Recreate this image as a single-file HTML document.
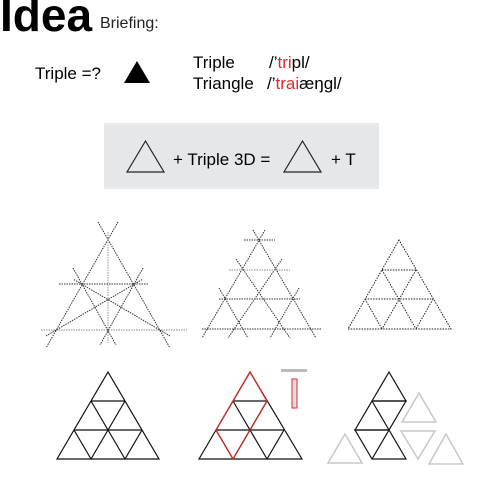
<!DOCTYPE html>
<html><head><meta charset="utf-8"><style>
body{margin:0;background:#fff;width:500px;height:500px;overflow:hidden}
svg{display:block}
text{font-family:"Liberation Sans",sans-serif}
</style></head><body>
<svg width="500" height="500" viewBox="0 0 500 500">
<text x="0" y="31" font-size="46" font-weight="bold" fill="#000">Idea</text>
<text x="100" y="28" font-size="16" fill="#222">Briefing:</text>
<text x="35" y="79" font-size="17" fill="#000">Triple =?</text>
<polygon points="124,83 150,83 137,61" fill="#000"/>
<text x="193" y="68" font-size="17">Triple</text>
<text x="269" y="68" font-size="17">/’<tspan fill="#e0282e">tri</tspan>pl/</text>
<text x="193" y="89" font-size="17">Triangle</text>
<text x="267" y="89" font-size="17">/’<tspan fill="#e0282e">trai</tspan>æŋgl/</text>
<rect x="104" y="123" width="275" height="66" fill="#e6e7e8"/>
<polygon points="127,172 164,172 145.5,141" fill="none" stroke="#222" stroke-width="1.2"/>
<text x="173" y="165" font-size="17">+ Triple 3D =</text>
<polygon points="284,172 321,172 302.5,141" fill="none" stroke="#222" stroke-width="1.2"/>
<text x="331" y="165" font-size="17">+ T</text>

<g stroke="#333" stroke-width="1" stroke-dasharray="1.5,1" fill="none">
<line x1="118" y1="222" x2="46" y2="348"/><line x1="98" y1="222" x2="170" y2="348"/>
<line x1="41" y1="330" x2="187" y2="330" stroke="#888"/>
<line x1="108" y1="232" x2="108" y2="343" stroke="#999"/>
<line x1="59" y1="284" x2="149" y2="284"/>
<line x1="73" y1="268" x2="116" y2="345"/><line x1="143" y1="268" x2="100" y2="345"/>
<line x1="46" y1="336" x2="143" y2="279"/><line x1="170" y1="336" x2="73" y2="279"/>
</g>
<g stroke="#333" stroke-width="1" stroke-dasharray="1.5,1" fill="none">
<line x1="265" y1="230" x2="202" y2="338"/><line x1="253" y1="230" x2="316" y2="338"/>
<line x1="236" y1="259" x2="290" y2="338"/><line x1="282" y1="259" x2="228" y2="338"/>
<line x1="219" y1="288" x2="248" y2="338"/><line x1="299" y1="288" x2="270" y2="338"/>
<line x1="244" y1="240" x2="275" y2="240"/><line x1="229" y1="270" x2="290" y2="270" stroke="#888"/>
<line x1="219" y1="299" x2="300" y2="299"/><line x1="202" y1="329" x2="322" y2="329"/>
</g>
<g stroke="#222" stroke-width="1" stroke-dasharray="1.5,1.2" fill="none">
<polygon points="399,240 348,329 451,329"/>
<line x1="382" y1="270" x2="416" y2="270"/><line x1="365" y1="299" x2="433" y2="299"/>
<line x1="382" y1="270" x2="416" y2="329"/><line x1="416" y1="270" x2="382" y2="329"/>
<line x1="365" y1="299" x2="382" y2="329"/><line x1="433" y1="299" x2="416" y2="329"/>
</g>

<g stroke="#111" stroke-width="1.2" fill="none">
<polygon points="108,372 57,459 159,459"/>
<line x1="91" y1="401" x2="125" y2="401"/><line x1="74" y1="430" x2="142" y2="430"/>
<line x1="91" y1="401" x2="125" y2="459"/><line x1="125" y1="401" x2="91" y2="459"/>
<line x1="74" y1="430" x2="91" y2="459"/><line x1="142" y1="430" x2="125" y2="459"/>
</g>
<g stroke="#111" stroke-width="1.2" fill="none">
<polygon points="250,372 199,459 302,459"/>
<line x1="233" y1="401" x2="267" y2="401"/><line x1="216" y1="430" x2="284" y2="430"/>
<line x1="233" y1="401" x2="267" y2="459"/><line x1="267" y1="401" x2="233" y2="459"/>
<line x1="216" y1="430" x2="233" y2="459"/><line x1="284" y1="430" x2="267" y2="459"/>
<polygon points="250,372 216,430 233,459 267,401" stroke="#c0332b" stroke-width="1.4"/>
</g>
<rect x="281" y="369" width="26" height="3" fill="#bbb"/>
<rect x="292" y="379" width="5" height="29" fill="#ddd" stroke="#e0282e" stroke-width="1"/>
<g stroke="#111" stroke-width="1.2" fill="none">
<polygon points="389,372 372,401 406,401"/>
<polygon points="372,401 406,401 389,430 355,430"/>
<line x1="372" y1="401" x2="389" y2="430"/>
<polygon points="355,430 389,430 406,459 372,459"/>
<line x1="389" y1="430" x2="372" y2="459"/>
</g>
<g stroke="#c8c8c8" stroke-width="1.5" fill="none">
<polygon points="419,393 402,422 436,422"/>
<polygon points="401,431 435,431 418,459"/>
<polygon points="345,434 328,463 362,463"/>
<polygon points="446,434 429,464 463,464"/>
</g>
</svg>
</body></html>
